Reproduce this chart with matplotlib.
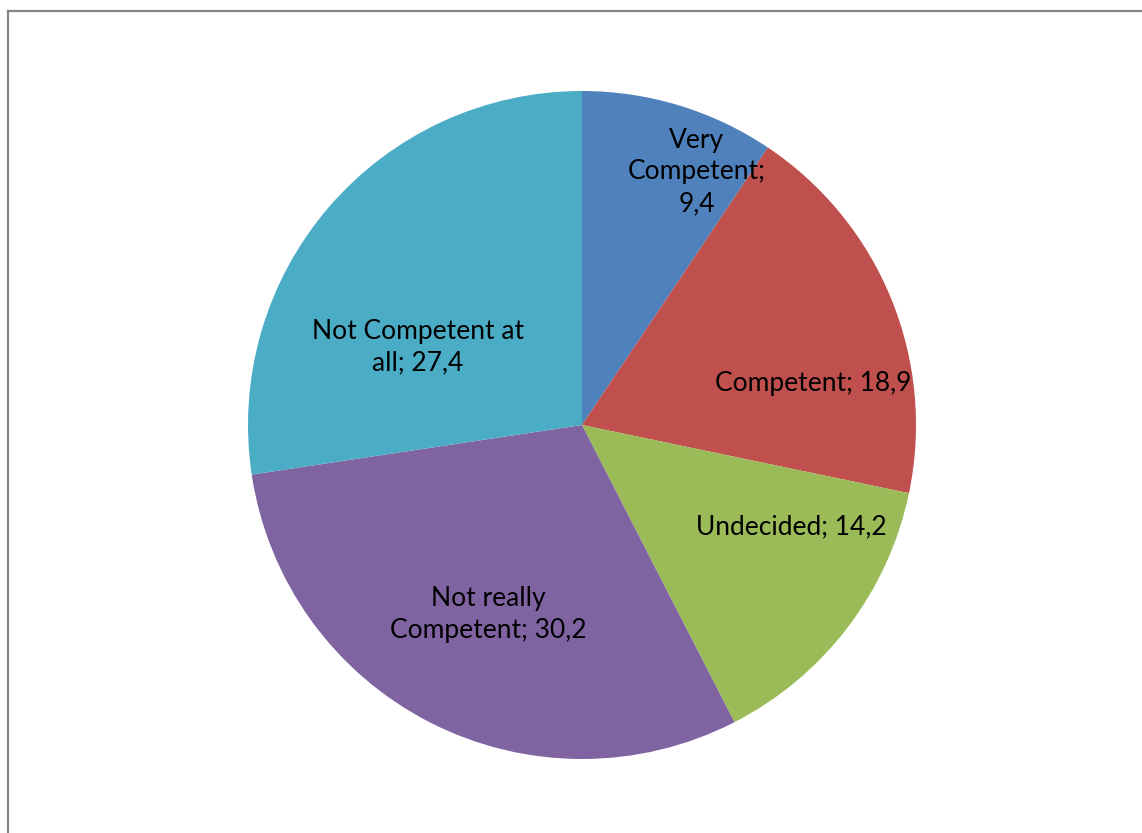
import matplotlib
matplotlib.use("Agg")
import matplotlib.pyplot as plt
from matplotlib.lines import Line2D

categories = ["Very\nCompetent;\n9,4", "Competent; 18,9", "Undecided; 14,2",
              "Not really\nCompetent; 30,2", "Not Competent at\nall; 27,4"]
values = [9.4, 18.9, 14.2, 30.2, 27.4]
colors = ["#4F81BD", "#C0504D", "#9BBB59", "#8064A2", "#4BACC6"]
label_pos = [(0.344, 0.758), (0.692, 0.123), (0.626, -0.305), (-0.281, -0.568), (-0.491, 0.233)]

W, H = 1142, 833
fig = plt.figure(figsize=(W / 100, H / 100), dpi=100)
fig.patch.set_facecolor("white")

cx, cy, R = 582, 425, 334
ax = fig.add_axes([(cx - R) / W, (H - cy - R) / H, 2 * R / W, 2 * R / H])
ax.pie(values, colors=colors, startangle=90, counterclock=False,
       wedgeprops=dict(linewidth=0), radius=1)
ax.set_xlim(-1, 1)
ax.set_ylim(-1, 1)
ax.set_aspect("auto")
ax.axis("off")

for lab, (x, y) in zip(categories, label_pos):
    ax.text(x, y, lab, ha="center", va="center", fontsize=19,
            family=["Lato", "DejaVu Sans"], color="black", linespacing=1.33)

# chart frame (left and top edges visible)
fx = 7.5 / W
fy = 1 - 10.5 / H
fig.add_artist(Line2D([fx, fx], [0, fy], transform=fig.transFigure, color="#868686", lw=1.6))
fig.add_artist(Line2D([fx, 1], [fy, fy], transform=fig.transFigure, color="#868686", lw=1.6))

fig.savefig("out.png", dpi=100, facecolor="white")
